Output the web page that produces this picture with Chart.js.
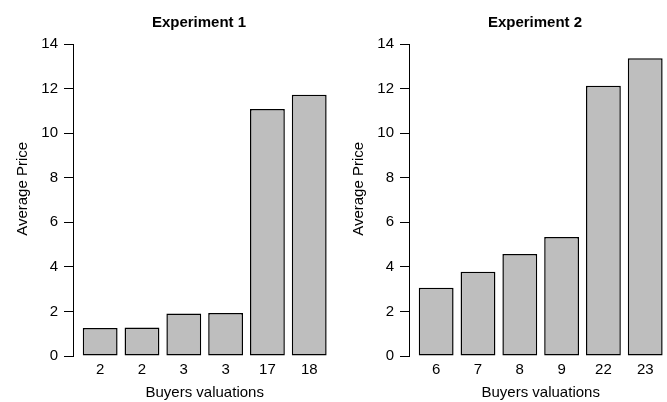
<!DOCTYPE html>
<html><head><meta charset="utf-8">
<script src="https://cdn.jsdelivr.net/npm/chart.js@4/dist/chart.umd.min.js"></script>
<style>
html,body{margin:0;padding:0;width:667px;height:402px;overflow:hidden;background:#fff;}
.panel{position:absolute;top:0;width:398px;height:402px;}
#p1{left:0}
#p2{left:336px}
</style></head><body>
<div class="panel" id="p1"><canvas id="c1"></canvas></div>
<div class="panel" id="p2"><canvas id="c2"></canvas></div>
<script>
// ---- data ----
const exp1Title = 'Experiment 1';
const exp1Labels = ['2', '2', '3', '3', '17', '18'];
const exp1Prices = [1.26, 1.28, 1.91, 1.93, 11.08, 11.72];

const exp2Title = 'Experiment 2';
const exp2Labels = ['6', '7', '8', '9', '22', '23'];
const exp2Prices = [3.06, 3.78, 4.58, 5.34, 12.13, 13.36];

const yTickValues = [0, 2, 4, 6, 8, 10, 12, 14];
const xAxisTitle = 'Buyers valuations';
const yAxisTitle = 'Average Price';

// ---- R barplot-like geometry (bar width 1, space 0.2) ----
const BAR_W = 1, BAR_SPACE = 0.2;
const FONT = "'Liberation Sans', Arial, Helvetica, sans-serif";
Chart.defaults.font.family = FONT;
Chart.defaults.font.size = 15;
Chart.defaults.color = '#000';

const yTitlePlugin = {
  id: 'yTitle',
  afterDraw(chart, args, opts) {
    const ctx = chart.ctx, ys = chart.scales.y;
    ctx.save();
    ctx.font = '15px ' + FONT;
    ctx.fillStyle = '#000';
    ctx.textAlign = 'center';
    ctx.textBaseline = 'middle';
    ctx.translate(ys.right - 50, ys.getPixelForValue(opts.center));
    ctx.rotate(-Math.PI / 2);
    ctx.fillText(opts.text, 0, 0);
    ctx.restore();
  }
};

function makeChart(id, title, labels, values) {
  const n = values.length;
  const centers = labels.map((_, i) => BAR_SPACE + i * (BAR_W + BAR_SPACE) + BAR_W / 2);
  const xLo = BAR_SPACE, xHi = n * (BAR_W + BAR_SPACE);
  const ext = 0.04 * (xHi - xLo);
  return new Chart(document.getElementById(id), {
    type: 'bar',
    data: {
      datasets: [{
        data: values.map((v, i) => ({ x: centers[i], y: v })),
        backgroundColor: '#bebebe',
        borderColor: '#000',
        borderWidth: 1.5,
        borderSkipped: false,
        categoryPercentage: 1,
        barPercentage: BAR_W / (BAR_W + BAR_SPACE)
      }]
    },
    options: {
      responsive: true,
      maintainAspectRatio: false,
      animation: false,
      layout: { padding: 0 },
      plugins: {
        legend: { display: false },
        tooltip: { enabled: false },
        title: {
          display: true, text: title, color: '#000',
          font: { size: 15, weight: 'bold' },
          padding: { top: 14, bottom: 12 }
        },
        yTitle: { text: yAxisTitle, center: 7.5 }
      },
      scales: {
        x: {
          type: 'linear',
          offset: false,
          min: xLo - ext, max: xHi + ext,
          afterFit: s => { s.height = 46; },
          grid: { display: false, drawTicks: false, offset: false },
          border: { display: false },
          afterBuildTicks: s => { s.ticks = centers.map(v => ({ value: v })); },
          ticks: {
            autoSkip: false, maxRotation: 0, padding: 5, color: '#000',
            callback: (v, i) => labels[i]
          },
          title: { display: true, text: xAxisTitle, color: '#000', padding: { top: 2, bottom: 0 } }
        },
        y: {
          min: 0, max: 14,
          afterBuildTicks: s => { s.ticks = yTickValues.map(v => ({ value: v })); },
          afterFit: s => { s.width = 73; },
          grid: { drawOnChartArea: false, drawTicks: true, tickLength: 9, color: '#000', lineWidth: 1 },
          border: { display: true, color: '#000', width: 1 },
          ticks: { padding: 6, color: '#000' }
        },
        pad: {
          type: 'linear', position: 'right', display: true,
          ticks: { display: false }, grid: { display: false }, border: { display: false },
          afterFit: s => { s.width = 61.6; }
        }
      }
    },
    plugins: [yTitlePlugin]
  });
}

makeChart('c1', exp1Title, exp1Labels, exp1Prices);
makeChart('c2', exp2Title, exp2Labels, exp2Prices);
</script>
</body></html>
